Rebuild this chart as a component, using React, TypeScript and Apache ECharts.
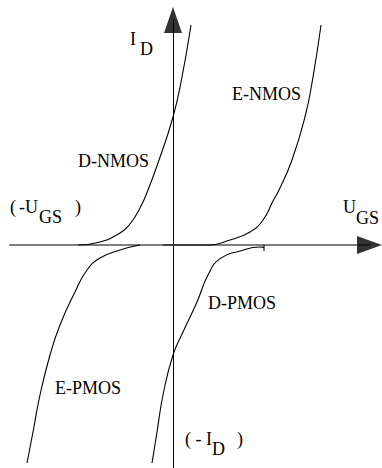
import React, { useEffect, useRef } from "react";
import * as echarts from "echarts";

// U_GS (units) vs I_D (units); origin at the crossing of the axes
const dNmos: [number, number][] = [
  [-4.75, 0], [-3.65, 0.15], [-2.65, 0.6], [-2.15, 1.05], [-1.65, 1.85],
  [-1.25, 2.75], [-0.75, 4.1], [0, 6.4], [0.45, 8.4], [0.9, 11.0],
];
const eNmos: [number, number][] = [
  [-0.5, 0], [1.2, 0], [1.75, 0], [2.85, 0.25], [3.85, 0.65], [4.5, 1.25],
  [5.0, 2.2], [5.3, 2.75], [5.95, 4.25], [6.6, 6.4], [7.0, 8.4], [7.4, 11.0],
];
const ePmos: [number, number][] = [
  [-1.65, 0], [-2.65, -0.25], [-3.65, -0.65], [-4.3, -1.25], [-4.9, -2.35],
  [-5.65, -4.0], [-6.15, -5.5], [-6.65, -7.5], [-7.0, -9.35], [-7.3, -10.9],
];
const dPmos: [number, number][] = [
  [4.55, -0.12], [4.35, -0.1], [3.35, -0.3], [2.35, -0.68], [1.75, -1.5],
  [1.2, -2.85], [0.5, -4.35], [0, -5.5], [-0.5, -7.5], [-0.8, -9.35], [-1.05, -10.9],
];
const dPmosTick: [number, number][] = [[4.55, 0], [4.55, -0.3]];
const arrowX: [number, number][] = [[9.825, 0]];
const arrowY: [number, number][] = [[0, 11.25]];

const curveNames = ["D-NMOS", "E-NMOS", "E-PMOS", "D-PMOS"];

const FAMILY = '"Liberation Serif", "DejaVu Serif", serif';

function txt(text: string, x: number, y: number) {
  return {
    type: "text",
    x,
    y,
    silent: true,
    style: {
      text,
      fontFamily: FAMILY,
      fontSize: 18,
      fill: "#000",
      align: "left",
      verticalAlign: "middle",
      textAlign: "left",
      textVerticalAlign: "middle",
    },
  };
}

export default function App() {
  const ref = useRef<HTMLDivElement>(null);
  useEffect(() => {
    if (!ref.current) return;
    const chart = echarts.init(ref.current, null, { renderer: "svg" });
    const line = (name: string, data: [number, number][]) => ({
      name,
      type: "line",
      data,
      smooth: 0.5,
      symbol: "none",
      silent: true,
      lineStyle: { color: "#000", width: 1.1 },
      z: 3,
    });
    chart.setOption({
      animation: false,
      backgroundColor: "#fff",
      textStyle: { fontFamily: FAMILY },
      grid: { left: 10, right: 12.5, top: 20, bottom: 0, containLabel: false },
      xAxis: {
        type: "value",
        min: -8.15,
        max: 9.825,
        axisLine: { show: true, onZero: true, lineStyle: { color: "#7f7f7f", width: 2 } },
        axisTick: { show: false },
        axisLabel: { show: false },
        splitLine: { show: false },
      },
      yAxis: {
        type: "value",
        min: -11.15,
        max: 11.25,
        axisLine: { show: true, onZero: true, lineStyle: { color: "#000", width: 1 } },
        axisTick: { show: false },
        axisLabel: { show: false },
        splitLine: { show: false },
      },
      series: [
        line(curveNames[0], dNmos),
        line(curveNames[1], eNmos),
        line(curveNames[2], ePmos),
        line(curveNames[3], dPmos),
        {
          type: "line",
          data: dPmosTick,
          symbol: "none",
          silent: true,
          lineStyle: { color: "#000", width: 1.1 },
          z: 3,
        },
        {
          type: "scatter",
          data: arrowX,
          symbol: "triangle",
          symbolSize: [18, 25],
          symbolRotate: -90,
          itemStyle: { color: "#000" },
          silent: true,
          clip: false,
          z: 4,
        },
        {
          type: "scatter",
          data: arrowY,
          symbol: "triangle",
          symbolSize: [18, 26],
          itemStyle: { color: "#000" },
          silent: true,
          clip: false,
          z: 4,
        },
      ],
      graphic: [
        txt("I", 130, 39),
        txt("D", 140, 49),
        txt("E-NMOS", 232, 94),
        txt("D-NMOS", 78, 161),
        txt("(", 10, 207),
        txt("-U", 19, 207),
        txt("GS", 39, 217),
        txt(")", 75, 207),
        txt("U", 343, 207),
        txt("GS", 356, 218),
        txt("D-PMOS", 208, 303),
        txt("E-PMOS", 55, 388),
        txt("( - I", 185, 439),
        txt("D", 212, 449),
        txt(")", 237, 439),
      ],
    });
    return () => chart.dispose();
  }, []);
  return (
    <div
      ref={ref}
      style={{ position: "fixed", left: 0, top: 0, width: 382, height: 468, background: "#fff" }}
    />
  );
}
